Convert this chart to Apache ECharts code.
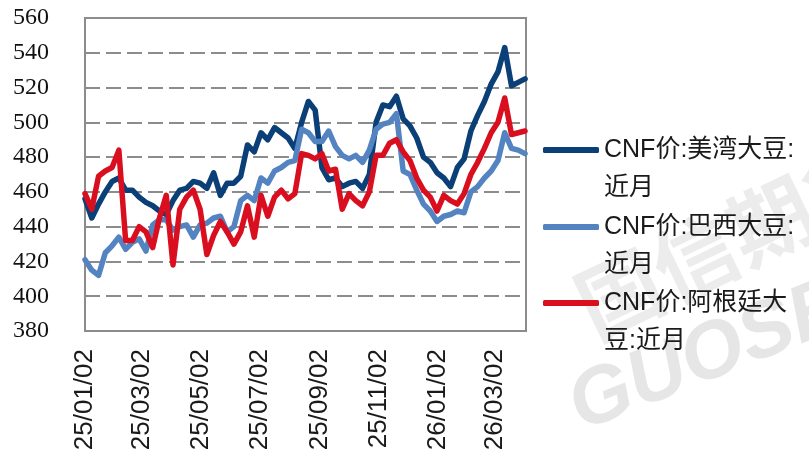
<!DOCTYPE html>
<html>
<head>
<meta charset="utf-8">
<script src="https://cdn.jsdelivr.net/npm/echarts@6/dist/echarts.min.js"></script>
<style>
  html, body { margin: 0; padding: 0; background: #fff; }
  #main { width: 809px; height: 459px; }
</style>
</head>
<body>
<div id="main"></div>
<script>
// 周度取样，起点 25/01/02，每 7 天一个点
var startDate = '2025-01-02';
var stepDays = 7;

// CNF价:美湾大豆:近月
var usGulf = [456, 445, 453, 460, 466, 468, 461, 461, 457, 454, 452, 449,
  447, 455, 461, 462, 466, 465, 462, 471, 458, 465,
  465, 469, 487, 483, 494, 490, 497, 494, 491, 485, 500,
  512, 507, 474, 467, 468, 463, 465, 466, 462, 470, 500,
  510, 509, 515, 502, 498, 491, 480, 477, 471, 468, 463,
  474, 479, 495, 504, 512, 522, 529, 543, 521, 523, 525];

// CNF价:巴西大豆:近月
var brazil = [421, 415, 412, 425, 429, 434, 427, 431, 433, 426, 441, 444,
  444, 438, 440, 441, 434, 441, 442, 445, 446, 437,
  440, 455, 458, 455, 468, 465, 472, 474, 477, 478, 496,
  494, 489, 489, 495, 486, 481, 479, 481, 477, 484, 496,
  499, 500, 505, 472, 470, 461, 453, 449, 443, 446, 447,
  449, 448, 460, 463, 468, 472, 478, 494, 485, 484, 482];

// CNF价:阿根廷大豆:近月
var argentina = [459, 450, 469, 472, 474, 484, 432, 432, 440, 437, 428, 445,
  458, 418, 450, 457, 461, 450, 424, 435, 443, 437,
  430, 437, 452, 434, 458, 446, 457, 461, 456, 459, 482,
  481, 479, 482, 472, 473, 450, 459, 455, 452, 460, 481,
  481, 488, 490, 483, 478, 468, 461, 457, 449, 458, 455,
  453, 459, 470, 477, 485, 494, 500, 514, 493, 494, 495];

var seriesNames = ['CNF价:美湾大豆:近月', 'CNF价:巴西大豆:近月', 'CNF价:阿根廷大豆:近月'];
// 首行留空，让图例线对齐第一行文字
var legendLabels = ['\nCNF价:美湾大豆:\n近月', '\nCNF价:巴西大豆:\n近月', '\nCNF价:阿根廷大\n豆:近月'];
var tickDates = ['2025-01-02', '2025-03-02', '2025-05-02', '2025-07-02',
  '2025-09-02', '2025-11-02', '2026-01-02', '2026-03-02'];
var endDate = '2026-04-03';

var colors = ['#0a3f77', '#5383c0', '#d90f1f'];

var DAY = 86400000;
var t0 = Date.parse(startDate);
function dayOf(s) { return Math.round((Date.parse(s) - t0) / DAY); }
function pad(n) { return (n < 10 ? '0' : '') + n; }
function labelOf(day) {
  var d = new Date(t0 + day * DAY);
  return pad(d.getUTCFullYear() % 100) + '/' + pad(d.getUTCMonth() + 1) + '/' + pad(d.getUTCDate());
}
function toPairs(arr) {
  return arr.map(function (v, i) { return [i * stepDays, v]; });
}

var chart = echarts.init(document.getElementById('main'));

var legends = seriesNames.map(function (name, i) {
  var centers = [150, 227, 303];
  return {
    data: [name],
    left: 543,
    top: centers[i] - 57,
    padding: 0,
    selectedMode: false,
    icon: 'roundRect',
    itemWidth: 56,
    itemHeight: 6,
    formatter: function () { return legendLabels[i]; },
    textStyle: {
      fontSize: 25,
      fontFamily: '"Liberation Sans", "Noto Sans CJK SC", sans-serif',
      color: '#1a1a1a',
      lineHeight: 38
    }
  };
});

chart.setOption({
  animation: false,
  backgroundColor: '#fff',
  color: colors,
  graphic: [
    {
      type: 'text', x: 600, y: 350, rotation: 0.45, z: -1,
      style: { text: '国信期货', fontSize: 84, fontWeight: 'bold',
        fontFamily: '"Noto Sans CJK SC"', fill: '#ececec', verticalAlign: 'bottom' }
    },
    {
      type: 'text', x: 588, y: 448, rotation: 0.38, z: -1,
      style: { text: 'GUOSEN', fontSize: 80, fontWeight: 'bold', fontStyle: 'italic',
        fontFamily: '"Liberation Sans"', fill: '#e6e6e6', verticalAlign: 'bottom' }
    }
  ],
  legend: legends,
  grid: {
    left: 85, top: 18, width: 441, height: 313,
    show: true, borderColor: '#8c8c8c', borderWidth: 2, backgroundColor: 'transparent'
  },
  xAxis: {
    type: 'value',
    min: 0,
    max: dayOf(endDate),
    axisLine: { show: false },
    axisTick: { show: false },
    splitLine: { show: false },
    axisLabel: {
      customValues: tickDates.map(dayOf),
      formatter: function (v) { return labelOf(v); },
      rotate: 90,
      margin: 18,
      fontSize: 26,
      fontFamily: '"Liberation Sans", sans-serif',
      color: '#1a1a1a'
    }
  },
  yAxis: {
    type: 'value',
    min: 380,
    max: 560,
    interval: 20,
    axisLine: { show: false },
    axisTick: { show: false },
    axisLabel: {
      margin: 36,
      fontSize: 24,
      fontFamily: '"Liberation Serif", serif',
      color: '#111'
    },
    splitLine: {
      show: true,
      lineStyle: { color: '#8c8c8c', width: 2, type: [15, 6] }
    }
  },
  series: [usGulf, brazil, argentina].map(function (arr, i) {
    return {
      name: seriesNames[i],
      type: 'line',
      data: toPairs(arr),
      showSymbol: false,
      z: 2 + i,
      lineStyle: { width: 5.5, color: colors[i], join: 'round', cap: 'round' },
      itemStyle: { color: colors[i] }
    };
  })
});
</script>
</body>
</html>
